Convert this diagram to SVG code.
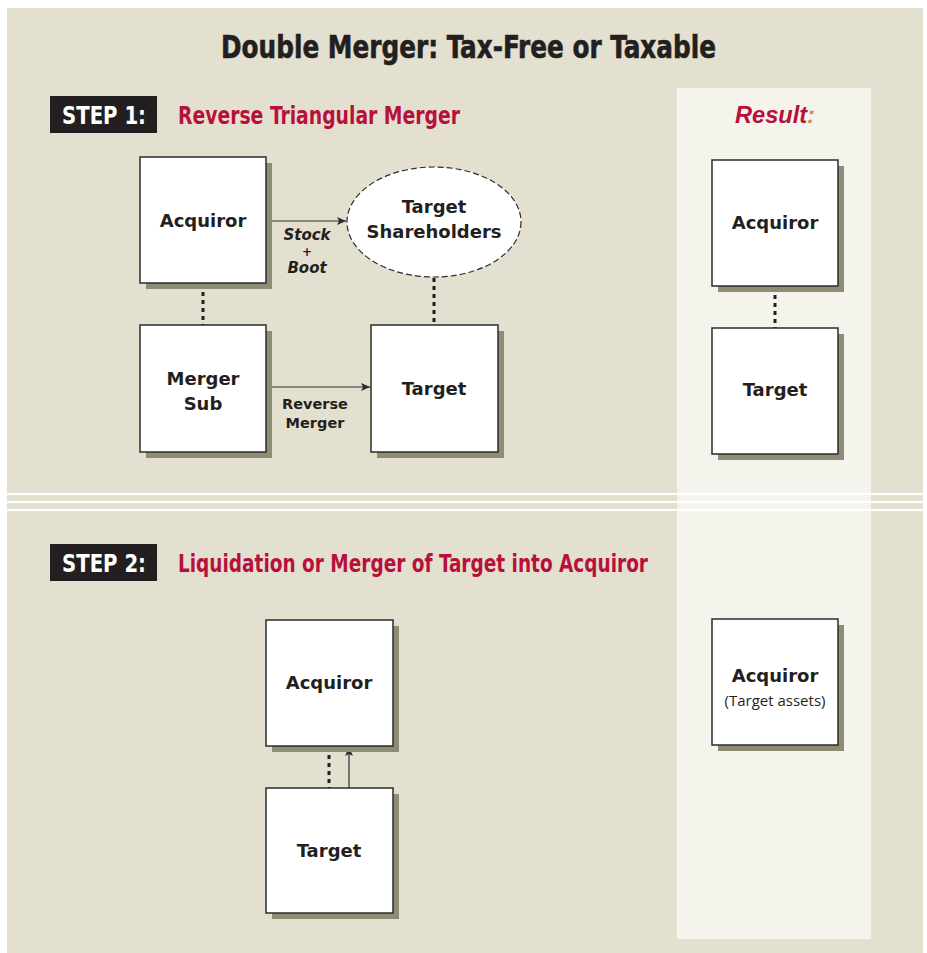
<svg xmlns="http://www.w3.org/2000/svg" width="927" height="953" viewBox="0 0 927 953">
<defs>
<marker id="arr" markerWidth="10" markerHeight="8" refX="9" refY="4" orient="auto" markerUnits="userSpaceOnUse">
<path d="M0,0 L9,4 L0,8 L2,4 Z" fill="#2b2b2b"/>
</marker>
<style>
.cond{font-family:"DejaVu Sans Condensed","Liberation Sans Narrow","Liberation Sans",sans-serif;font-weight:bold;font-stretch:condensed}
.red{fill:#b8103c}
.shadow{fill:#8f8c76}
.box{fill:#ffffff;stroke:#2b2b2b;stroke-width:1.5}
.lbl{font-family:"DejaVu Sans","Liberation Sans",sans-serif;font-weight:bold;font-size:18px;fill:#231f20;text-anchor:middle}
.sm{font-family:"DejaVu Sans","Liberation Sans",sans-serif;font-weight:bold;font-size:14.5px;fill:#231f20;text-anchor:middle}
.it{font-family:"DejaVu Sans","Liberation Sans",sans-serif;font-weight:bold;font-style:italic;fill:#231f20;text-anchor:middle}
.dot{stroke:#231f20;stroke-width:3;stroke-dasharray:4 4;fill:none}
.arrow{stroke:#2b2b2b;stroke-width:1.2;fill:none;marker-end:url(#arr)}
.wl{stroke:#ffffff;stroke-width:2}
</style>
</defs>
<rect x="0" y="0" width="927" height="953" fill="#ffffff"/>
<rect x="7" y="8" width="916" height="945" fill="#e4e0cf"/>
<rect x="677" y="88" width="194" height="851" fill="#f4f3ec"/>
<line class="wl" x1="7" y1="494" x2="923" y2="494"/>
<line class="wl" x1="7" y1="502" x2="923" y2="502"/>
<line class="wl" x1="7" y1="510" x2="923" y2="510"/>

<text class="cond" x="221" y="58" font-size="32" fill="#231f20" stroke="#231f20" stroke-width="0.6" textLength="495" lengthAdjust="spacingAndGlyphs">Double Merger: Tax-Free or Taxable</text>

<g id="step1-header">
<rect x="50" y="96" width="107" height="37" fill="#231f20"/>
<text class="cond" x="62" y="124" font-size="25" fill="#ffffff" textLength="84" lengthAdjust="spacingAndGlyphs">STEP 1:</text>
<text class="cond red" x="178" y="124" font-size="25" textLength="282" lengthAdjust="spacingAndGlyphs">Reverse Triangular Merger</text>
</g>
<g id="result-header">
<text x="735" y="123" font-family="'Liberation Sans',Arial,sans-serif" font-weight="bold" font-style="italic" font-size="23" class="red" textLength="80" lengthAdjust="spacingAndGlyphs">Result<tspan fill="#c8914d">:</tspan></text>
</g>
<g id="step2-header">
<rect x="50" y="544" width="107" height="37" fill="#231f20"/>
<text class="cond" x="62" y="572" font-size="25" fill="#ffffff" textLength="84" lengthAdjust="spacingAndGlyphs">STEP 2:</text>
<text class="cond red" x="178" y="572" font-size="25" textLength="470" lengthAdjust="spacingAndGlyphs">Liquidation or Merger of Target into Acquiror</text>
</g>

<g id="connectors">
<line class="dot" x1="203" y1="284" x2="203" y2="325"/>
<line class="dot" x1="434" y1="278" x2="434" y2="325"/>
<line class="dot" x1="775" y1="287" x2="775" y2="328"/>
<line class="dot" x1="329" y1="747" x2="329" y2="788"/>
<line class="arrow" x1="266" y1="221" x2="346" y2="221"/>
<line class="arrow" x1="266" y1="387" x2="370" y2="387"/>
<line class="arrow" x1="349" y1="788" x2="349" y2="747"/>
<text class="it" x="307" y="240" font-size="15">Stock</text>
<text class="it" x="307" y="256" font-size="12">+</text>
<text class="it" x="307" y="273" font-size="15">Boot</text>
<text class="sm" x="315" y="409">Reverse</text>
<text class="sm" x="315" y="428">Merger</text>
</g>

<g id="s1-acquiror">
<rect class="shadow" x="146" y="163" width="126" height="126"/>
<rect class="box" x="140" y="157" width="126" height="126"/>
<text class="lbl" x="203" y="227">Acquiror</text>
</g>
<g id="s1-mergersub">
<rect class="shadow" x="146" y="331" width="126" height="127"/>
<rect class="box" x="140" y="325" width="126" height="127"/>
<text class="lbl" x="203" y="385">Merger</text>
<text class="lbl" x="203" y="410">Sub</text>
</g>
<g id="s1-target">
<rect class="shadow" x="377" y="331" width="127" height="127"/>
<rect class="box" x="371" y="325" width="127" height="127"/>
<text class="lbl" x="434" y="395">Target</text>
</g>
<g id="s1-shareholders">
<ellipse cx="434" cy="222" rx="87" ry="55" fill="#ffffff" stroke="#2b2b2b" stroke-width="1.2" stroke-dasharray="6 3"/>
<text class="lbl" x="434" y="213">Target</text>
<text class="lbl" x="434" y="238">Shareholders</text>
</g>

<g id="r1-acquiror">
<rect class="shadow" x="718" y="166" width="126" height="126"/>
<rect class="box" x="712" y="160" width="126" height="126"/>
<text class="lbl" x="775" y="229">Acquiror</text>
</g>
<g id="r1-target">
<rect class="shadow" x="718" y="334" width="126" height="126"/>
<rect class="box" x="712" y="328" width="126" height="126"/>
<text class="lbl" x="775" y="396">Target</text>
</g>

<g id="s2-acquiror">
<rect class="shadow" x="272" y="626" width="127" height="126"/>
<rect class="box" x="266" y="620" width="127" height="126"/>
<text class="lbl" x="329" y="689">Acquiror</text>
</g>
<g id="s2-target">
<rect class="shadow" x="272" y="794" width="127" height="125"/>
<rect class="box" x="266" y="788" width="127" height="125"/>
<text class="lbl" x="329" y="857">Target</text>
</g>

<g id="r2-acquiror">
<rect class="shadow" x="718" y="625" width="126" height="126"/>
<rect class="box" x="712" y="619" width="126" height="126"/>
<text class="lbl" x="775" y="682">Acquiror</text>
<text x="775" y="706" font-family="'Open Sans','DejaVu Sans',sans-serif" font-size="15" fill="#231f20" text-anchor="middle">(Target assets)</text>
</g>
</svg>
